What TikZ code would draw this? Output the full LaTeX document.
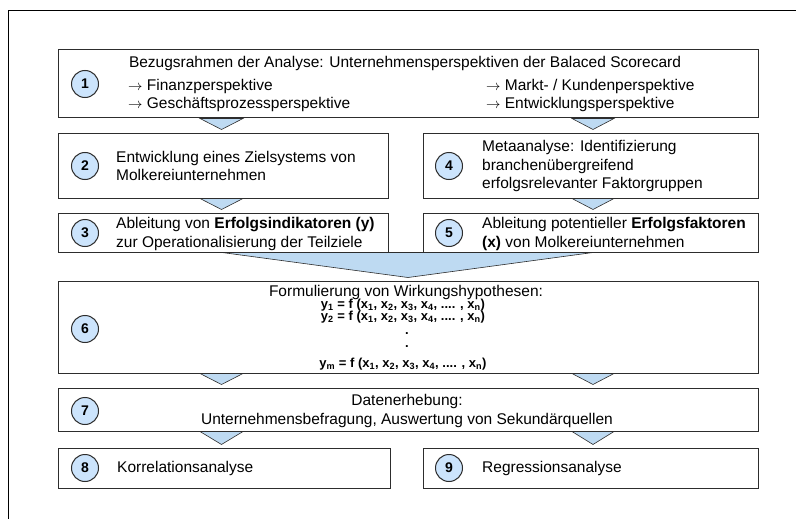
\documentclass[tikz,border=0pt]{standalone}
\usepackage{fontspec}
\setmainfont{Liberation Sans}
\usetikzlibrary{calc}
\definecolor{circfill}{RGB}{204,228,252}
\definecolor{trifill}{RGB}{190,218,242}
\definecolor{edge}{RGB}{45,45,45}

\tikzset{
  box/.style={draw=edge, line width=1pt, fill=white, inner sep=0pt},
  num/.style={circle, draw=edge, line width=1pt, fill=circfill, minimum size=27pt,
    inner sep=0pt, font=\fontsize{14}{14}\selectfont\bfseries},
  txt/.style={inner sep=0pt, anchor=west, align=left, font=\fontsize{15.5}{18.5}\selectfont},
  ctxt/.style={inner sep=0pt, align=center, font=\fontsize{15.5}{18.5}\selectfont},
  eq/.style={inner sep=0pt, font=\fontsize{13}{13}\selectfont\bfseries},
  tri/.style={draw=edge, line width=0.6pt, fill=trifill, line join=miter},
  frame/.style={draw=black, line width=1pt},
}

% downward flow triangle: from the bottom of #1 to just above the top of #2,
% spanning x = #3 .. #4
\newcommand\flowtri[4]{%
  \draw[tri] (#3,0 |- #1.south) -- (#4,0 |- #1.south)
    -- ($({(#3+#4)/2},0 |- #2.north)+(0,-3)$) -- cycle;}

\begin{document}
\begin{tikzpicture}[x=1pt, y=-1pt]
\useasboundingbox (0,0) rectangle (796,519);

% outer frame
\draw[frame] (8,519) -- (8,11) -- (796,11);

% boxes
\node[box, minimum width=700pt, minimum height=68pt] (b1) at (408,84) {};
\node[box, minimum width=330pt, minimum height=65pt] (b2) at (223,165.5) {};
\node[box, minimum width=330pt, minimum height=39pt] (b3) at (223,232.5) {};
\node[box, minimum width=335pt, minimum height=65pt] (b4) at (590.5,165.5) {};
\node[box, minimum width=335pt, minimum height=39pt] (b5) at (590.5,232.5) {};
\node[box, minimum width=700pt, minimum height=92pt] (b6) at (408,327) {};
\node[box, minimum width=700pt, minimum height=43pt] (b7) at (408,409.5) {};
\node[box, minimum width=332pt, minimum height=40pt] (b8) at (224,468) {};
\node[box, minimum width=335pt, minimum height=40pt] (b9) at (590.5,468) {};

% flow triangles
\flowtri{b1}{b2}{200}{243}
\flowtri{b1}{b4}{572}{614}
\flowtri{b2}{b3}{200}{243}
\flowtri{b4}{b5}{572}{614}
\draw[tri] (222,0 |- b3.south) -- (593,0 |- b5.south)
  -- ($(408,0 |- b6.north)+(0,-3)$) -- cycle;
\flowtri{b6}{b7}{200}{243}
\flowtri{b6}{b7}{572}{614}
\flowtri{b7}{b8}{200}{243}
\flowtri{b7}{b9}{572}{614}

% step numbers
\node[num] (c1) at (85,84) {1};
\node[num] (c2) at (85,166) {2};
\node[num] (c3) at (85,233) {3};
\node[num] (c4) at (449,166) {4};
\node[num] (c5) at (449,233) {5};
\node[num] (c6) at (85,329) {6};
\node[num] (c7) at (85,411) {7};
\node[num] (c8) at (85,468) {8};
\node[num] (c9) at (449,468) {9};

% texts
\node[ctxt] (t1) at (405,63) {Bezugsrahmen der Analyse: Unternehmensperspektiven der Balaced Scorecard};
\node[txt] (t1l) at (128,95.5) {$\rightarrow$ Finanzperspektive\\$\rightarrow$ Geschäftsprozessperspektive};
\node[txt] (t1r) at (486,95.5) {$\rightarrow$ Markt- / Kundenperspektive\\$\rightarrow$ Entwicklungsperspektive};
\node[txt] (t2) at (116,166) {Entwicklung eines Zielsystems von\\Molkereiunternehmen};
\node[txt] (t3) at (116,234) {Ableitung von \textbf{Erfolgsindikatoren (y)}\\zur Operationalisierung der Teilziele};
\node[txt] (t4) at (482,166) {Metaanalyse: Identifizierung\\branchenübergreifend\\erfolgsrelevanter Faktorgruppen};
\node[txt] (t5) at (482,234) {Ableitung potentieller \textbf{Erfolgsfaktoren}\\\textbf{(x)} von Molkereiunternehmen};
\node[ctxt] (t6) at (406,292) {Formulierung von Wirkungshypothesen:};
\node[eq] (e1) at (403,305) {y\textsubscript{1} = f (x\textsubscript{1}, x\textsubscript{2}, x\textsubscript{3}, x\textsubscript{4}, .... , x\textsubscript{n})};
\node[eq] (e2) at (403,317) {y\textsubscript{2} = f (x\textsubscript{1}, x\textsubscript{2}, x\textsubscript{3}, x\textsubscript{4}, .... , x\textsubscript{n})};
\node[eq] (e3) at (407,334) {.};
\node[eq] (e4) at (407,347) {.};
\node[eq] (e5) at (403,364) {y\textsubscript{m} = f (x\textsubscript{1}, x\textsubscript{2}, x\textsubscript{3}, x\textsubscript{4}, .... , x\textsubscript{n})};
\node[ctxt] (t7) at (407,411) {Datenerhebung:\\Unternehmensbefragung, Auswertung von Sekundärquellen};
\node[txt] (t8) at (117,468) {Korrelationsanalyse};
\node[txt] (t9) at (482,468) {Regressionsanalyse};
\end{tikzpicture}
\end{document}
